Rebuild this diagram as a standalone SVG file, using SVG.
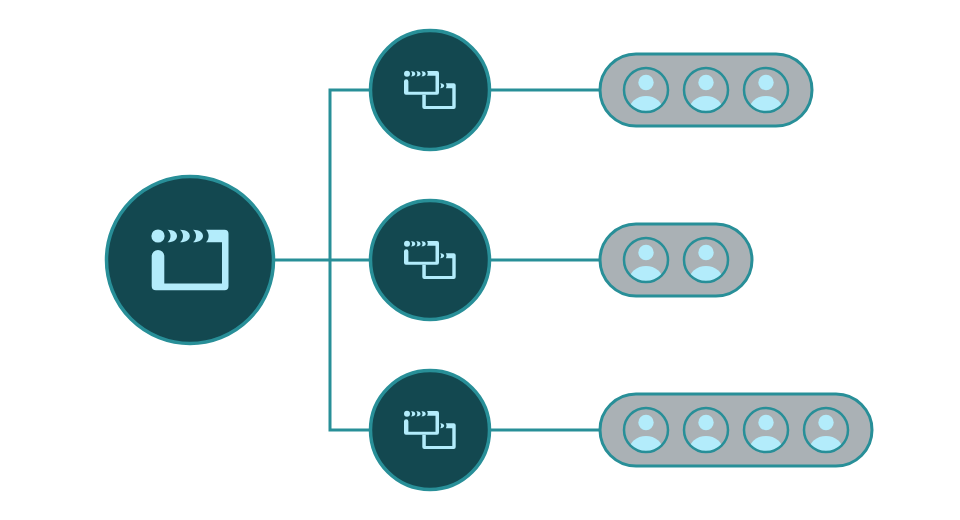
<svg xmlns="http://www.w3.org/2000/svg" xmlns:xlink="http://www.w3.org/1999/xlink" width="960" height="520" viewBox="0 0 960 520">
<style>
.hub{fill:#134850;stroke:#288f98;stroke-width:3.5}
.pill{fill:#aab1b5;stroke:#288f98;stroke-width:3}
.link{fill:none;stroke:#288f98;stroke-width:3;stroke-linecap:square}
.light{fill:#b3ecfb}
.ring{fill:none;stroke:#288f98;stroke-width:2.5}
</style>
<defs>
<clipPath id="pc"><circle cx="0" cy="0" r="21.5"/></clipPath>
<g id="person">
<circle class="light" cx="0" cy="-7.500" r="7.700"/>
<g clip-path="url(#pc)"><ellipse class="light" cx="0" cy="20.500" rx="17" ry="14.500"/></g>
<circle class="ring" cx="0" cy="0" r="22"/>
</g>
<g id="clap">
<circle class="light" cx="158" cy="236" r="6.600"/>
<path class="light" d="M167.500 229.700C174 229.700 177 232.500 177 236C177 239.500 174 242.300 167.500 242.300C171.500 239 171.500 233 167.500 229.700Z"/>
<path class="light" d="M180 229.700C186.500 229.700 189.800 232.500 189.800 236C189.800 239.500 186.500 242.300 180 242.300C184 239 184 233 180 229.700Z"/>
<path class="light" d="M193 229.700C199.500 229.700 203 232.500 203 236C203 239.500 199.500 242.300 193 242.300C197 239 197 233 193 229.700Z"/>
<path class="light" d="M206 229.700H224.500Q228.500 229.700 228.500 233.700V286Q228.500 290.300 224.500 290.300H156Q151.700 290.300 151.700 286V256.300A6.300 6.300 0 0 1 164.300 256.300V283.500H222V242.300H206C209.500 239 209.500 233 206 229.700Z"/>
</g>
<g id="multi">
<circle class="light" cx="407" cy="73.800" r="3"/>
<path class="light" d="M411 71.200C414.500 71.200 415.300 72.500 415.300 73.800C415.300 75.100 414.500 76.400 411 76.400C412.500 75 412.500 72.600 411 71.200Z"/>
<path class="light" d="M416.200 71.200C419.700 71.200 420.500 72.500 420.500 73.800C420.500 75.100 419.700 76.400 416.200 76.400C417.700 75 417.700 72.600 416.200 71.200Z"/>
<path class="light" d="M421.400 71.200C424.900 71.200 425.700 72.500 425.700 73.800C425.700 75.100 424.900 76.400 421.400 76.400C422.900 75 422.900 72.600 421.400 71.200Z"/>
<path class="light" d="M427 71H437Q439 71 439 73V92.500Q439 94.800 437 94.800H406Q404 94.800 404 92.800V81.500A2.200 2.200 0 0 1 408.400 81.500V91.800H435.500V75.800H427C428 74.500 428 72.400 427 71Z"/>
<path class="light" d="M440.200 83.300C443.200 83.300 444.200 84.800 444.200 85.800C444.200 86.800 443.200 88.200 440.200 88.200C441.400 87 441.400 84.800 440.200 83.300Z"/>
<path class="light" d="M445.800 83.300H453.700Q455.700 83.300 455.700 85.300V107Q455.700 109 453.700 109H424.300Q422.300 109 422.300 107V94.800H425.800V106H452.300V88.200H445.800C446.800 87 446.800 84.800 445.800 83.300Z"/>
</g>
</defs>
<g id="connectors">
<path class="link" d="M275 260H369M330 90V430M330 90H369M330 430H369M491 90H599M491 260H599M491 430H599"/>
</g>
<g id="root"><circle class="hub" cx="190" cy="260" r="83.500"/><use href="#clap"/></g>
<g id="mid-1"><circle class="hub" cx="430" cy="90" r="59.500"/><use href="#multi"/></g>
<g id="mid-2"><circle class="hub" cx="430" cy="260" r="59.500"/><use href="#multi" y="170"/></g>
<g id="mid-3"><circle class="hub" cx="430" cy="430" r="59.500"/><use href="#multi" y="340"/></g>
<g id="group-1"><rect class="pill" x="600" y="54" width="212" height="72" rx="36"/>
<use href="#person" x="646" y="90"/><use href="#person" x="706" y="90"/><use href="#person" x="766" y="90"/></g>
<g id="group-2"><rect class="pill" x="600" y="224" width="152" height="72" rx="36"/>
<use href="#person" x="646" y="260"/><use href="#person" x="706" y="260"/></g>
<g id="group-3"><rect class="pill" x="600" y="394" width="272" height="72" rx="36"/>
<use href="#person" x="646" y="430"/><use href="#person" x="706" y="430"/><use href="#person" x="766" y="430"/><use href="#person" x="826" y="430"/></g>
</svg>
